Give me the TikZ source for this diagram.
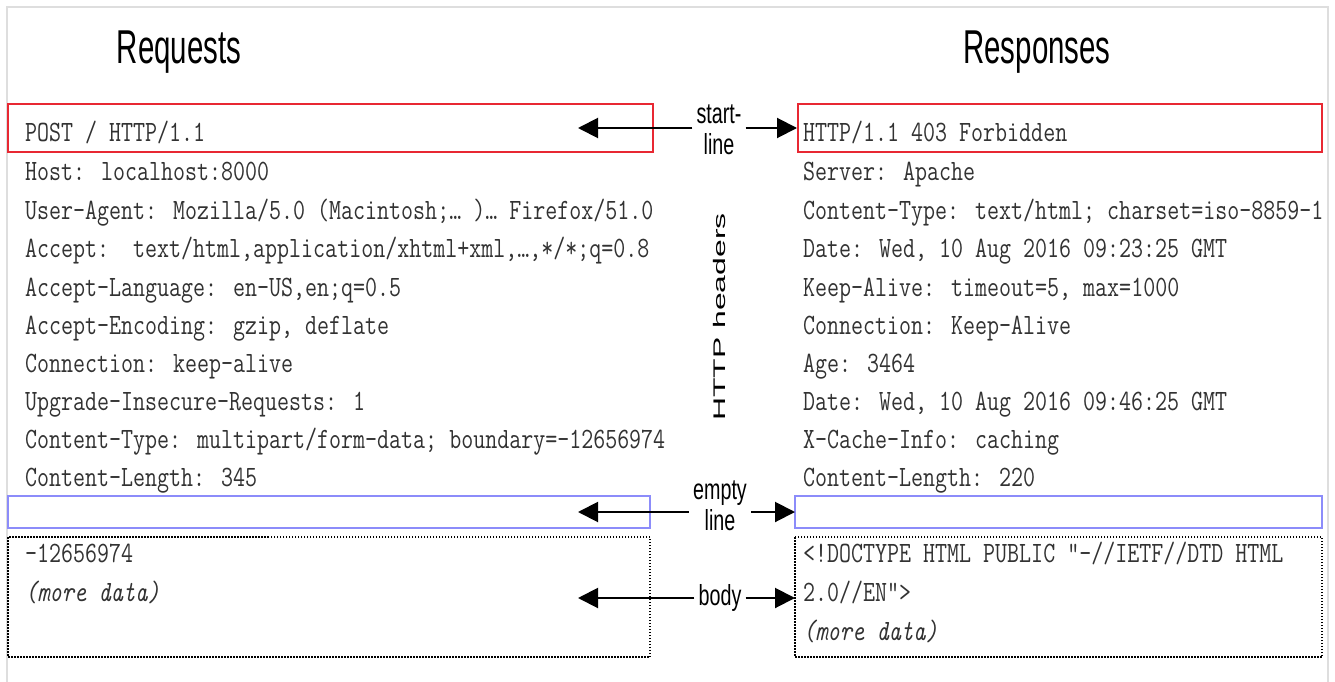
\documentclass[tikz,border=0pt]{standalone}
\usepackage{fontspec}
\newfontfamily\monofont[FakeStretch=0.79]{Latin Modern Mono}
\newfontfamily\headfont[FakeStretch=0.62]{Liberation Sans}
\newfontfamily\labelfont[FakeStretch=0.68]{Liberation Sans}
\newfontfamily\sidefont[FakeStretch=1.9]{Liberation Sans}
\usetikzlibrary{arrows.meta}
\definecolor{startred}{RGB}{232,40,50}
\definecolor{emptyblue}{RGB}{140,140,250}
\definecolor{framegray}{RGB}{222,222,222}
\definecolor{textgray}{RGB}{50,50,50}

\begin{document}
\begin{tikzpicture}
  [x=1pt, y=-1pt,
    my text/.style={anchor=base west, inner sep=0pt, text=textgray,
      font=\monofont\fontsize{29.5}{38}\selectfont},
    my heading/.style={anchor=base, inner sep=0pt,
      font=\headfont\fontsize{47.5}{50}\selectfont},
    my label/.style={align=center, inner sep=4pt,
      font=\labelfont\fontsize{29}{31}\selectfont},
    my arrow/.style={-{Triangle[length=20pt,width=20pt]}, line width=2pt},
    start box/.style={draw=startred, line width=1.5pt},
    empty box/.style={draw=emptyblue, line width=1.5pt},
    body box/.style={draw, line width=1.2pt, dash pattern=on 1.5pt off 1.5pt}, ]

  \useasboundingbox (0,0) rectangle (1335,682);
  \draw[framegray, line width=2.5pt] (7,682) |- (1328,7) -- (1328,682);

  \draw[start box] (8,104) rectangle (653,152);
  \draw[start box] (798,104) rectangle (1322,152);
  \draw[empty box] (8,496) rectangle (650,528);
  \draw[empty box] (795,496) rectangle (1322,528);
  \draw[body box] (8,537) rectangle (650,657);
  \draw[body box] (795,537) rectangle (1322,657);

  \node[my heading] (req) at (179,64) {Requests};
  \node[my heading] (res) at (1037,64) {Responses};

  % request side
  \node[my text] (reqstart) at (25,142) {POST / HTTP/1.1};
  \node[my text] (reqh1) at (25,180) {Host: localhost:8000};
  \node[my text] (reqh2) at (25,219) {User-Agent: Mozilla/5.0 (Macintosh;… )… Firefox/51.0};
  \node[my text] (reqh3) at (25,257) {Accept:\ \ text/html,application/xhtml+xml,…,*/*;q=0.8};
  \node[my text] (reqh4) at (25,296) {Accept-Language: en-US,en;q=0.5};
  \node[my text] (reqh5) at (25,334) {Accept-Encoding: gzip, deflate};
  \node[my text] (reqh6) at (25,372) {Connection: keep-alive};
  \node[my text] (reqh7) at (25,410) {Upgrade-Insecure-Requests: 1};
  \node[my text] (reqh8) at (25,448) {Content-Type: multipart/form-data; boundary=-12656974};
  \node[my text] (reqh9) at (25,486) {Content-Length: 345};
  \node[my text] (reqb1) at (25,562) {-12656974};
  \node[my text] (reqb2) at (25,601) {\itshape (more data)};

  % response side
  \node[my text] (resstart) at (803,142) {HTTP/1.1 403 Forbidden};
  \node[my text] (resh1) at (803,180) {Server: Apache};
  \node[my text] (resh2) at (803,219) {Content-Type: text/html; charset=iso-8859-1};
  \node[my text] (resh3) at (803,257) {Date: Wed, 10 Aug 2016 09:23:25 GMT};
  \node[my text] (resh4) at (803,296) {Keep-Alive: timeout=5, max=1000};
  \node[my text] (resh5) at (803,334) {Connection: Keep-Alive};
  \node[my text] (resh6) at (803,372) {Age: 3464};
  \node[my text] (resh7) at (803,410) {Date: Wed, 10 Aug 2016 09:46:25 GMT};
  \node[my text] (resh8) at (803,448) {X-Cache-Info: caching};
  \node[my text] (resh9) at (803,486) {Content-Length: 220};
  \node[my text] (resb1) at (803,562) {<!DOCTYPE HTML PUBLIC "-//IETF//DTD HTML};
  \node[my text] (resb2) at (803,601) {2.0//EN">};
  \node[my text] (resb3) at (803,640) {\itshape (more data)};

  % labels in the middle
  \node[my label] (startlbl) at (719,130) {start-\\line};
  \node[my label] (emptylbl) at (720,506) {empty\\line};
  \node[my label] (bodylbl) at (720,598) {body};
  \node[rotate=90, inner sep=0pt, font=\sidefont\fontsize{16.8}{18}\selectfont]
    (hdrlbl) at (719,317) {HTTP headers};

  \coordinate (startreq) at (578,128);
  \coordinate (startres) at (797,128);
  \coordinate (emptyreq) at (578,512);
  \coordinate (emptyres) at (795,512);
  \coordinate (bodyreq) at (578,598);
  \coordinate (bodyres) at (795,598);

  \draw[my arrow] (startlbl.west |- startreq) -- (startreq);
  \draw[my arrow] (startlbl.east |- startres) -- (startres);
  \draw[my arrow] (emptylbl.west |- emptyreq) -- (emptyreq);
  \draw[my arrow] (emptylbl.east |- emptyres) -- (emptyres);
  \draw[my arrow] (bodylbl.west |- bodyreq) -- (bodyreq);
  \draw[my arrow] (bodylbl.east |- bodyres) -- (bodyres);

\end{tikzpicture}
\end{document}
